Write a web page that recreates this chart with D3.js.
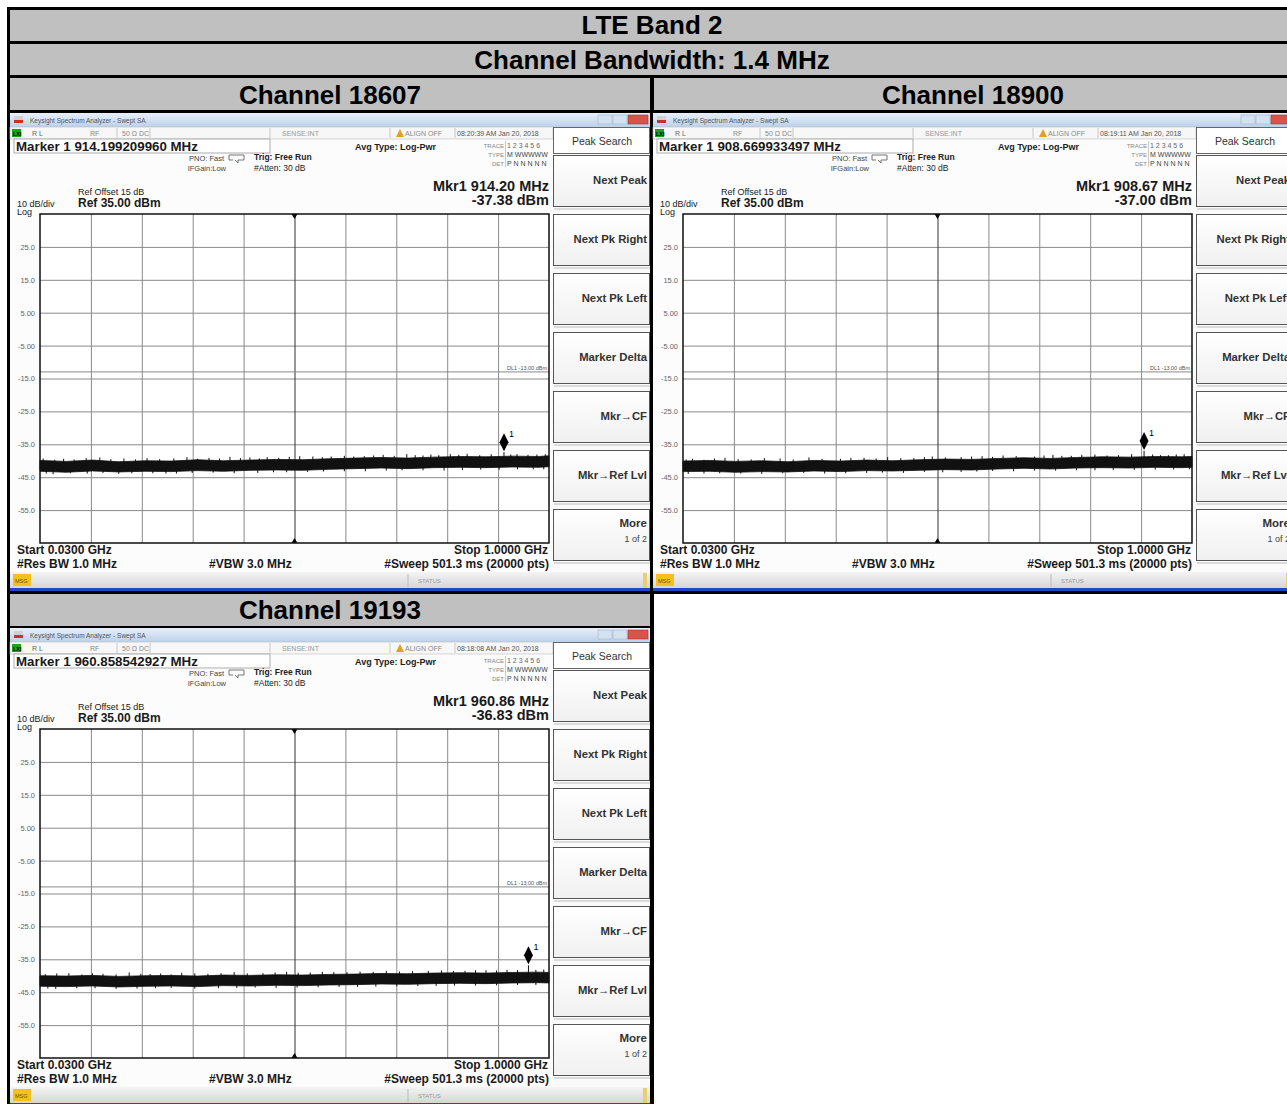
<!DOCTYPE html>
<html>
<head>
<meta charset="UTF-8">
<title>LTE Band 2</title>
<script src="https://cdn.jsdelivr.net/npm/d3@7"></script>
<style>
  body { margin: 0; background: #fff; }
  svg { display: block; font-family: "Liberation Sans", Arial, sans-serif; }
</style>
</head>
<body>
<svg id="svg" width="1287" height="1104"></svg>
<script>
// ---- data ----
const tableTitle = "LTE Band 2";
const bwTitle = "Channel Bandwidth: 1.4 MHz";
const channels = ["18607", "18900", "19193"];
const markerFreqText = ["914.199209960", "908.669933497", "960.858542927"];
const markerMHz = [914.20, 908.67, 960.86];
const markerDbm = [-37.38, -37.00, -36.83];
const sweepClock = ["08:20:39 AM Jan 20, 2018", "08:19:11 AM Jan 20, 2018", "08:18:08 AM Jan 20, 2018"];
const yTickVals = [25, 15, 5, -5, -15, -25, -35, -45, -55];
const yTickText = ["25.0", "15.0", "5.00", "-5.00", "-15.0", "-25.0", "-35.0", "-45.0", "-55.0"];
const softKeys = ["Next Peak", "Next Pk Right", "Next Pk Left", "Marker Delta", "Mkr\u2192CF", "Mkr\u2192Ref Lvl", "More"];
const displayLine = -13;

// noise band (MHz, dBm) - upper / lower envelope of the trace
const envFreq = [30, 80, 130, 180, 230, 280, 330, 380, 430, 480, 530, 580, 630, 680, 730, 780, 830, 880, 930, 980, 1000];
const upper1 = [-39.9, -40.2, -39.8, -40.3, -40.0, -40.1, -39.7, -40.0, -39.8, -39.6, -39.7, -39.4, -39.2, -39.0, -39.2, -38.9, -38.7, -38.8, -38.6, -38.7, -38.5];
const lower1 = [-43.2, -43.5, -43.1, -43.4, -43.2, -43.3, -43.0, -43.2, -42.9, -42.8, -42.9, -42.6, -42.4, -42.2, -42.4, -42.1, -42.0, -42.1, -41.9, -42.0, -41.8];
const upper2 = [-40.1, -39.9, -40.2, -40.0, -40.3, -39.9, -40.1, -39.8, -40.0, -39.7, -39.5, -39.6, -39.3, -39.1, -39.3, -39.0, -38.8, -38.9, -38.7, -38.8, -38.7];
const lower2 = [-43.3, -43.2, -43.5, -43.3, -43.4, -43.1, -43.3, -43.0, -43.1, -42.9, -42.7, -42.8, -42.5, -42.3, -42.5, -42.2, -42.1, -42.2, -42.0, -42.1, -42.0];
const upper3 = [-40.0, -40.1, -39.9, -40.2, -40.0, -39.9, -40.1, -39.8, -39.9, -39.7, -39.8, -39.6, -39.5, -39.3, -39.4, -39.2, -39.1, -39.2, -39.0, -38.9, -39.0];
const lower3 = [-43.2, -43.3, -43.1, -43.4, -43.2, -43.1, -43.3, -43.0, -43.1, -42.9, -43.0, -42.8, -42.7, -42.5, -42.6, -42.4, -42.3, -42.4, -42.2, -42.1, -42.2];

// single spikes sticking out of the band (MHz, dBm)
const spikesUp1 = [[36, -39.3], [58, -39.7], [75, -39.4], [95, -39.6], [118, -39.2], [144, -39.0], [165, -39.5], [190, -39.3], [212, -39.6], [234, -39.2], [258, -39.5], [285, -39.3], [310, -38.9], [330, -39.4], [352, -39.1], [372, -39.3], [392, -38.8], [412, -39.2], [430, -39.0], [448, -39.3], [463, -38.9], [485, -39.1], [505, -38.8], [525, -38.6], [550, -38.7], [568, -38.9], [585, -38.7], [610, -38.5], [628, -38.7], [648, -38.6], [666, -38.4], [684, -38.2], [705, -38.5], [729, -38.0], [745, -38.3], [760, -38.4], [775, -38.1], [790, -38.3], [812, -38.0], [828, -38.2], [844, -37.9], [868, -38.3], [890, -38.0], [914.2, -37.38], [927, -38.1], [939, -38.0], [960, -38.2], [977, -38.1], [993, -38.0]];
const spikesDn1 = [[42, -43.9], [55, -44.1], [88, -43.8], [120, -43.9], [150, -43.7], [180, -44.0], [205, -43.8], [245, -43.8], [270, -43.9], [290, -43.9], [320, -43.7], [360, -43.6], [400, -43.8], [445, -43.7], [475, -43.5], [500, -43.5], [540, -43.4], [570, -43.3], [610, -43.2], [650, -43.2], [690, -43.0], [720, -42.9], [760, -42.9], [800, -43.0], [835, -42.8], [870, -42.7], [905, -42.7], [940, -42.6], [970, -42.6], [990, -42.6]];
const spikesUp2 = [[36, -39.6], [48, -39.4], [70, -39.7], [90, -39.3], [110, -39.1], [135, -39.5], [160, -39.6], [185, -39.2], [215, -39.3], [240, -39.6], [270, -39.0], [295, -39.4], [330, -39.4], [350, -39.1], [375, -39.1], [398, -39.3], [420, -38.9], [445, -39.2], [470, -39.2], [490, -38.9], [505, -38.7], [530, -39.0], [560, -38.9], [580, -38.7], [600, -38.6], [620, -38.8], [640, -38.4], [665, -38.6], [700, -38.7], [718, -38.4], [735, -38.2], [752, -38.5], [770, -38.5], [790, -38.2], [815, -38.1], [838, -38.4], [860, -38.3], [885, -38.0], [908.67, -37.0], [925, -38.1], [940, -38.3], [955, -38.3], [970, -38.1], [985, -38.0]];
const spikesDn2 = [[40, -44.0], [70, -43.9], [100, -43.8], [140, -43.9], [180, -44.0], [220, -43.8], [260, -43.7], [300, -43.9], [340, -43.8], [380, -43.7], [410, -43.6], [450, -43.7], [490, -43.4], [525, -43.5], [560, -43.4], [590, -43.3], [620, -43.1], [660, -43.2], [700, -43.0], [740, -43.0], [780, -42.9], [815, -42.9], [850, -42.8], [890, -42.8], [930, -42.7], [965, -42.7], [995, -42.6]];
const spikesUp3 = [[40, -39.5], [62, -39.3], [85, -39.2], [110, -39.6], [130, -39.3], [150, -39.4], [175, -39.6], [200, -39.0], [222, -39.4], [240, -39.5], [260, -39.3], [280, -39.6], [300, -39.1], [325, -39.3], [350, -39.4], [375, -39.2], [400, -38.9], [425, -39.3], [455, -39.2], [478, -39.0], [500, -38.8], [522, -39.1], [545, -39.0], [568, -38.8], [590, -38.9], [615, -38.9], [640, -38.7], [665, -38.8], [690, -38.5], [715, -38.7], [740, -38.6], [770, -38.5], [795, -38.4], [818, -38.6], [840, -38.5], [860, -38.3], [880, -38.3], [900, -38.4], [920, -38.2], [940, -38.3], [960.86, -36.83], [975, -38.2], [990, -38.1]];
const spikesDn3 = [[45, -43.9], [60, -44.0], [100, -43.8], [135, -43.8], [175, -44.0], [215, -43.9], [250, -43.8], [280, -43.7], [325, -43.9], [370, -43.8], [405, -43.7], [440, -43.6], [480, -43.7], [520, -43.6], [560, -43.5], [600, -43.4], [635, -43.4], [670, -43.3], [710, -43.2], [750, -43.1], [785, -43.1], [820, -43.0], [860, -43.0], [900, -42.9], [940, -42.8], [975, -42.8]];

const uppers = [upper1, upper2, upper3];
const lowers = [lower1, lower2, lower3];
const spikesUp = [spikesUp1, spikesUp2, spikesUp3];
const spikesDn = [spikesDn1, spikesDn2, spikesDn3];

// ---- drawing ----
const svg = d3.select("#svg");
const W = 1287, H = 1104;
const defs = svg.append("defs");

function vgrad(id, stops) {
    const gr = defs.append("linearGradient").attr("id", id)
        .attr("x1", 0).attr("y1", 0).attr("x2", 0).attr("y2", 1);
    stops.forEach(s => gr.append("stop").attr("offset", s[0]).attr("stop-color", s[1]));
}
vgrad("titleGrad", [["0%", "#e8f0fa"], ["100%", "#bcd1ea"]]);
vgrad("statusGrad", [["0%", "#f4f4f4"], ["100%", "#d6d6d6"]]);
vgrad("btnGrad", [["0%", "#ffffff"], ["100%", "#f0f0f0"]]);

function txt(g, x, y, s, o) {
    o = o || {};
    return g.append("text").attr("x", x).attr("y", y).text(s)
        .attr("font-size", o.size || 10)
        .attr("font-weight", o.bold ? "bold" : "normal")
        .attr("fill", o.fill || "#1a1a1a")
        .attr("text-anchor", o.anchor || "start");
}

// table frame
svg.append("rect").attr("x", 7).attr("y", 7).attr("width", W).attr("height", 587).attr("fill", "#000");
svg.append("rect").attr("x", 7).attr("y", 594).attr("width", 647).attr("height", H - 594).attr("fill", "#000");

const gray = "#c0c0c0";
svg.append("rect").attr("x", 10).attr("y", 10).attr("width", W).attr("height", 31).attr("fill", gray);
svg.append("rect").attr("x", 10).attr("y", 44).attr("width", W).attr("height", 31).attr("fill", gray);
svg.append("rect").attr("x", 10).attr("y", 78).attr("width", 640).attr("height", 32).attr("fill", gray);
svg.append("rect").attr("x", 654).attr("y", 78).attr("width", W).attr("height", 32).attr("fill", gray);
svg.append("rect").attr("x", 10).attr("y", 594).attr("width", 640).attr("height", 32).attr("fill", gray);

txt(svg, 652, 34, tableTitle, { size: 26, bold: true, anchor: "middle", fill: "#000" });
txt(svg, 652, 69, bwTitle, { size: 26, bold: true, anchor: "middle", fill: "#000" });
txt(svg, 330, 104, "Channel " + channels[0], { size: 26, bold: true, anchor: "middle", fill: "#000" });
txt(svg, 973, 104, "Channel " + channels[1], { size: 26, bold: true, anchor: "middle", fill: "#000" });
txt(svg, 330, 619, "Channel " + channels[2], { size: 26, bold: true, anchor: "middle", fill: "#000" });

const panelPos = [[10, 113], [653, 113], [10, 628]];

function drawPanel(k) {
    const g = svg.append("g").attr("transform", `translate(${panelPos[k][0]},${panelPos[k][1]})`);
    g.append("rect").attr("width", 640).attr("height", 478).attr("fill", "#fcfcfc");

    // window title bar
    g.append("rect").attr("width", 640).attr("height", 14).attr("fill", "url(#titleGrad)");
    g.append("rect").attr("x", 4).attr("y", 3).attr("width", 9).attr("height", 4).attr("fill", "#d0d0d0");
    g.append("rect").attr("x", 4).attr("y", 7).attr("width", 9).attr("height", 3).attr("fill", "#c8312c");
    txt(g, 20, 10, "Keysight Spectrum Analyzer - Swept SA", { size: 6.5, fill: "#555" });
    g.append("rect").attr("x", 588).attr("y", 2).attr("width", 14).attr("height", 9).attr("fill", "#d4e1f1").attr("stroke", "#9fb4cf").attr("stroke-width", 0.6);
    g.append("rect").attr("x", 603).attr("y", 2).attr("width", 14).attr("height", 9).attr("fill", "#d4e1f1").attr("stroke", "#9fb4cf").attr("stroke-width", 0.6);
    g.append("rect").attr("x", 618).attr("y", 2).attr("width", 20).attr("height", 9).attr("fill", "#d9534a").attr("stroke", "#a33").attr("stroke-width", 0.6);

    // status row
    g.append("rect").attr("y", 14).attr("width", 543).attr("height", 12).attr("fill", "#f7f7f7")
        .attr("stroke", "#bbb").attr("stroke-width", 0.6);
    g.append("rect").attr("x", 2).attr("y", 16).attr("width", 9).attr("height", 8).attr("fill", "#1da01d");
    txt(g, 3, 23, "LXI", { size: 5.5, fill: "#000", bold: true });
    txt(g, 22, 23, "R L", { size: 7, fill: "#666" });
    txt(g, 80, 23, "RF", { size: 7, fill: "#888" });
    txt(g, 112, 23, "50 \u03a9   DC", { size: 7, fill: "#888" });
    [107, 140, 260, 380, 445].forEach(x => g.append("line").attr("x1", x).attr("x2", x)
        .attr("y1", 15).attr("y2", 25).attr("stroke", "#bbb").attr("stroke-width", 0.8));
    txt(g, 272, 23, "SENSE:INT", { size: 7, fill: "#999" });
    g.append("path").attr("d", "M386,24 L390,16 L394,24 Z").attr("fill", "#e0a020");
    txt(g, 395, 23, "ALIGN OFF", { size: 7, fill: "#888" });
    txt(g, 447, 23, sweepClock[k], { size: 7, fill: "#555" });

    // marker readout box
    g.append("rect").attr("x", 4).attr("y", 26).attr("width", 256).attr("height", 14)
        .attr("fill", "#fff").attr("stroke", "#999").attr("stroke-width", 0.8);
    txt(g, 6, 38, "Marker 1 " + markerFreqText[k] + " MHz", { size: 13.3, bold: true });
    txt(g, 345, 37, "Avg Type: Log-Pwr", { size: 9, bold: true, fill: "#222" });

    txt(g, 494, 35, "TRACE", { size: 6, fill: "#888", anchor: "end" });
    txt(g, 494, 44, "TYPE", { size: 6, fill: "#888", anchor: "end" });
    txt(g, 494, 53, "DET", { size: 6, fill: "#888", anchor: "end" });
    g.append("line").attr("x1", 495.5).attr("x2", 495.5).attr("y1", 28).attr("y2", 54).attr("stroke", "#aaa").attr("stroke-width", 0.6);
    txt(g, 497, 35, "1 2 3 4 5 6", { size: 7, fill: "#666" });
    txt(g, 497, 44, "M WWWWW", { size: 7, fill: "#444" });
    txt(g, 497, 53, "P N N N N N", { size: 7, fill: "#444" });

    txt(g, 214, 48, "PNO: Fast", { size: 7.5, fill: "#444", anchor: "end" });
    txt(g, 216, 58, "IFGain:Low", { size: 7.5, fill: "#444", anchor: "end" });
    g.append("path").attr("d", "M219,42 h15 v5 h-6 v3 l-3,-3 M219,42 v5 h4").attr("fill", "none").attr("stroke", "#555").attr("stroke-width", 0.8);
    txt(g, 244, 47, "Trig: Free Run", { size: 8.5, fill: "#222", bold: true });
    txt(g, 244, 58, "#Atten: 30 dB", { size: 8.5, fill: "#222" });

    txt(g, 539, 78, "Mkr1 " + markerMHz[k].toFixed(2) + " MHz", { size: 14.5, bold: true, anchor: "end" });
    txt(g, 539, 92, markerDbm[k].toFixed(2) + " dBm", { size: 14.5, bold: true, anchor: "end" });

    txt(g, 68, 82, "Ref Offset 15 dB", { size: 9, fill: "#222" });
    txt(g, 7, 94, "10 dB/div", { size: 9, fill: "#222" });
    txt(g, 68, 94, "Ref 35.00 dBm", { size: 12, bold: true });
    txt(g, 7, 102, "Log", { size: 9, fill: "#222" });

    // plot
    const x = d3.scaleLinear().domain([30, 1000]).range([30, 539]);
    const y = d3.scaleLinear().domain([35, -65]).range([101, 430]);
    const plot = g.append("g");
    plot.append("rect").attr("x", 30).attr("y", 101).attr("width", 509).attr("height", 329).attr("fill", "#fff");

    plot.append("g").attr("transform", "translate(30,0)")
        .call(d3.axisLeft(y).tickValues(yTickVals).tickSize(-509).tickFormat(""))
        .call(a => a.select(".domain").remove())
        .call(a => a.selectAll("line").attr("stroke", "#8a8a8a").attr("stroke-width", 1));
    const xDivs = d3.range(1, 10).map(i => 30 + 97 * i);
    plot.append("g").attr("transform", "translate(0,430)")
        .call(d3.axisBottom(x).tickValues(xDivs).tickSize(-329).tickFormat(""))
        .call(a => a.select(".domain").remove())
        .call(a => a.selectAll("line").attr("stroke", d => d === 515 ? "#333" : "#8a8a8a").attr("stroke-width", 1));

    plot.append("g").attr("transform", "translate(28,0)")
        .call(d3.axisLeft(y).tickValues(yTickVals).tickSize(0).tickFormat((d, i) => yTickText[i]))
        .call(a => a.select(".domain").remove())
        .call(a => a.selectAll("text").attr("font-size", 7.5).attr("fill", "#666")
            .attr("font-family", "'Liberation Sans Narrow', 'Liberation Sans', Arial, sans-serif"));

    // display line
    plot.append("line").attr("x1", 30).attr("x2", 539).attr("y1", y(displayLine)).attr("y2", y(displayLine))
        .attr("stroke", "#8a8a8a").attr("stroke-width", 1);
    txt(plot, 537, y(displayLine) - 2, "DL1 -13.00 dBm", { size: 5.5, fill: "#555", anchor: "end" });

    // center frequency ticks
    plot.append("path").attr("d", `M${x(515) - 3},101 h6 l-3,5 Z`).attr("fill", "#000");
    plot.append("path").attr("d", `M${x(515) - 3},430 h6 l-3,-5 Z`).attr("fill", "#000");

    // noise trace
    const band = envFreq.map((f, i) => ({ f: f, hi: uppers[k][i], lo: lowers[k][i] }));
    plot.append("path").datum(band)
        .attr("d", d3.area().x(d => x(d.f)).y0(d => y(d.lo)).y1(d => y(d.hi)))
        .attr("fill", "#111").attr("stroke", "#111").attr("stroke-width", 0.8);
    const mid = d3.scaleLinear().domain(envFreq).range(envFreq.map((f, i) => (uppers[k][i] + lowers[k][i]) / 2));
    plot.selectAll("line.sp").data(spikesUp[k].concat(spikesDn[k])).join("line")
        .attr("x1", d => x(d[0])).attr("x2", d => x(d[0]))
        .attr("y1", d => y(mid(d[0]))).attr("y2", d => y(d[1]))
        .attr("stroke", "#111").attr("stroke-width", 1);

    plot.append("rect").attr("x", 30).attr("y", 101).attr("width", 509).attr("height", 329)
        .attr("fill", "none").attr("stroke", "#111").attr("stroke-width", 1.5);

    // marker
    const mx = x(markerMHz[k]), my = y(markerDbm[k]) - 10;
    plot.append("path").attr("d", `M${mx},${my - 9} L${mx + 4.5},${my} L${mx},${my + 9} L${mx - 4.5},${my} Z`).attr("fill", "#000");
    txt(plot, mx + 5, my - 5, "1", { size: 9, fill: "#000" });

    // bottom annotations
    txt(g, 7, 441, "Start 0.0300 GHz", { size: 12, bold: true });
    txt(g, 538, 441, "Stop 1.0000 GHz", { size: 12, bold: true, anchor: "end" });
    txt(g, 7, 455, "#Res BW 1.0 MHz", { size: 12, bold: true });
    txt(g, 199, 455, "#VBW 3.0 MHz", { size: 12, bold: true });
    txt(g, 539, 455, "#Sweep  501.3 ms (20000 pts)", { size: 12, bold: true, anchor: "end" });

    // soft key panel
    const sk = g.append("g");
    sk.append("rect").attr("x", 543).attr("y", 14).attr("width", 97).attr("height", 445).attr("fill", "#fafafa");
    sk.append("rect").attr("x", 543.5).attr("y", 14.5).attr("width", 96).attr("height", 26)
        .attr("fill", "#fff").attr("stroke", "#666").attr("stroke-width", 1);
    txt(sk, 592, 32, "Peak Search", { size: 10.5, fill: "#333", anchor: "middle" });
    softKeys.forEach((s, i) => {
        const top = 42 + 59 * i;
        sk.append("rect").attr("x", 543.5).attr("y", top + 0.5).attr("width", 96).attr("height", 51)
            .attr("fill", "url(#btnGrad)").attr("stroke", "#555").attr("stroke-width", 1);
        sk.append("line").attr("x1", 544).attr("x2", 640).attr("y1", top + 54).attr("y2", top + 54)
            .attr("stroke", "#bbb").attr("stroke-width", 1);
        if (s === "More") {
            txt(sk, 637, top + 18, s, { size: 11.5, bold: true, fill: "#333", anchor: "end" });
            txt(sk, 637, top + 33, "1 of 2", { size: 9, fill: "#444", anchor: "end" });
        } else {
            txt(sk, 637, top + 29, s, { size: 11.3, bold: true, fill: "#333", anchor: "end" });
        }
    });

    // message/status bar
    g.append("rect").attr("y", 459).attr("width", 640).attr("height", 16).attr("fill", "url(#statusGrad)");
    g.append("rect").attr("x", 3).attr("y", 461).attr("width", 18).attr("height", 12).attr("fill", "#f2c21a");
    txt(g, 5, 470, "MSG", { size: 5.5, fill: "#6a5000" });
    g.append("line").attr("x1", 398).attr("x2", 398).attr("y1", 461).attr("y2", 474).attr("stroke", "#bbb");
    txt(g, 408, 470, "STATUS", { size: 6, fill: "#999" });
    g.append("rect").attr("x", 633).attr("y", 460).attr("width", 4).attr("height", 15).attr("fill", "#e8d070");
    g.append("rect").attr("y", 475).attr("width", 640).attr("height", 3).attr("fill", "#2346c8");
}

[0, 1, 2].forEach(drawPanel);
</script>
</body>
</html>
